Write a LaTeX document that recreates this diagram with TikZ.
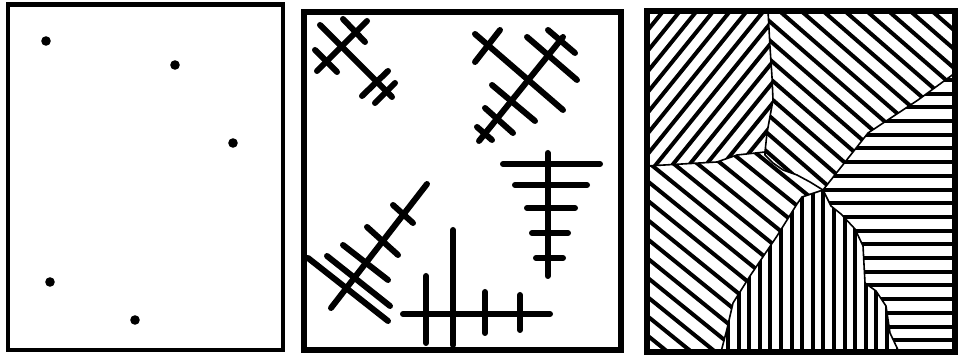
\documentclass[tikz,border=0pt]{standalone}
\usepackage{tikz}

\tikzset{
  frame/.style = {line width=2.2pt},
  fibre/.style = {line width=3pt, line cap=round},
  hatch/.style = {line width=2pt},
  seam/.style  = {line width=0.8pt, line join=round},
}

\begin{document}
\begin{tikzpicture}[x=0.5pt, y=-0.5pt]

\useasboundingbox (0,0) rectangle (958,356);

% ── Panel 1: seed points ─────────────────────────────────────────────────
\draw[frame] (8,4.7) rectangle (282.7,350.3);
\foreach \x/\y in {46/41, 175/65, 233/143, 50/282, 135/320} {
  \fill (\x,\y) circle[radius=2.4pt];
}

% ── Panel 2: growing fibres ──────────────────────────────────────────────
\draw[frame, line width=3pt] (304.3,12) rectangle (620.8,350.5);

% top-left cluster
\foreach \xa/\ya/\xb/\yb in {320/25/392/97, 367/21/317/71, 343/19/365/42,
                             315/50/337/72, 388/71/362/96, 395/83/375/103} {
  \draw[fibre] (\xa,\ya) -- (\xb,\yb);
}

% top-right cluster
\foreach \xa/\ya/\xb/\yb in {563/37/479/141, 475/34/563/110, 500/30/475/62,
                             548/30/575/53, 527/37/577/80, 492/85/535/121,
                             485/108/513/133, 477/127/492/140} {
  \draw[fibre] (\xa,\ya) -- (\xb,\yb);
}

% right comb
\draw[fibre] (547.7,153) -- (547.7,276);
\foreach \y/\xa/\xb in {164/503/600, 185/515/587, 208/527/575,
                        233/532/568, 258/536/563} {
  \draw[fibre] (\xa,\y) -- (\xb,\y);
}

% bottom comb
\draw[fibre] (403,314) -- (550,314);
\foreach \x/\ya/\yb in {426/276/343, 453/230/345, 485/292/333, 520/295/330} {
  \draw[fibre] (\x,\ya) -- (\x,\yb);
}

% bottom-left cluster
\draw[fibre] (427,184) -- (331,308);
\foreach \xa/\ya/\xb/\yb in {393/205/413/223, 367/227/398/255, 343/245/388/280,
                             327/256/390/306, 308/258/388/321} {
  \draw[fibre] (\xa,\ya) -- (\xb,\yb);
}

% ── Panel 3: hatched grains ──────────────────────────────────────────────
\begin{scope}
\clip (646.7,11.2) rectangle (955,352);

% grain with rising hatch (top left)
\begin{scope}
  \clip (640,0) -- (768,0) -- (768,11) -- (770,47) -- (772,77) -- (773,100)
    -- (767,133) -- (765,152) -- (737,155) -- (717,162) -- (647,166)
    -- (640,166) -- cycle;
  \foreach \k in {-22,...,22} {
    \draw[hatch, rotate around={51:(680,11)}] (180,{11+13*\k}) -- (1180,{11+13*\k});
  }
\end{scope}

% grain with falling hatch (top right)
\begin{scope}
  \clip (768,0) -- (960,0) -- (960,73) -- (955,73) -- (918,100) -- (868,133)
    -- (823,190) -- (810,182) -- (797,175) -- (783,170) -- (773,163)
    -- (765,155) -- (765,152) -- (767,133) -- (773,100) -- (772,77)
    -- (770,47) -- (768,11) -- cycle;
  \foreach \k in {-26,...,26} {
    \draw[hatch, rotate around={-41:(823,11)}] (323,{11+14.3*\k}) -- (1323,{11+14.3*\k});
  }
\end{scope}

% grain with horizontal hatch (right)
\begin{scope}
  \clip (960,73) -- (955,73) -- (918,100) -- (868,133) -- (823,190)
    -- (831,206) -- (841,214) -- (855,229) -- (863,246) -- (865,283)
    -- (876,291) -- (886,306) -- (890,333) -- (899,352) -- (899,360)
    -- (960,360) -- cycle;
  \foreach \k in {-1,...,21} {
    \draw[hatch] (800,{80+13.7*\k}) -- (960,{80+13.7*\k});
  }
\end{scope}

% grain with vertical hatch (bottom)
\begin{scope}
  \clip (823,190) -- (831,206) -- (841,214) -- (855,229) -- (863,246)
    -- (865,283) -- (876,291) -- (886,306) -- (890,333) -- (899,352)
    -- (899,360) -- (721,360) -- (721,352) -- (727,329) -- (733,303)
    -- (750,276) -- (777,236) -- (797,204) -- (802,197) -- cycle;
  \foreach \k in {-1,...,18} {
    \draw[hatch] ({728+10.6*\k},180) -- ({728+10.6*\k},360);
  }
\end{scope}

% grain with falling hatch (bottom left)
\begin{scope}
  \clip (640,166) -- (647,166) -- (717,162) -- (737,155) -- (765,152)
    -- (765,155) -- (773,163) -- (783,170) -- (797,175) -- (810,182)
    -- (823,190) -- (802,197) -- (797,204) -- (777,236) -- (750,276)
    -- (733,303) -- (727,329) -- (721,352) -- (721,360) -- (640,360) -- cycle;
  \foreach \k in {-26,...,26} {
    \draw[hatch, rotate around={-39:(647,200)}] (147,{200+15*\k}) -- (1147,{200+15*\k});
  }
\end{scope}

% grain seams
\draw[seam] (768,11) -- (770,47) -- (772,77) -- (773,100) -- (767,133) -- (765,152);
\draw[seam] (647,166) -- (717,162) -- (737,155) -- (765,152);
\draw[seam] (765,152) -- (765,155) -- (773,163) -- (783,170) -- (797,175)
  -- (810,182) -- (823,190);
\draw[seam] (823,190) -- (868,133) -- (918,100) -- (955,73);
\draw[seam] (823,190) -- (831,206) -- (841,214) -- (855,229) -- (863,246)
  -- (865,283) -- (876,291) -- (886,306) -- (890,333) -- (899,352);
\draw[seam] (823,190) -- (802,197) -- (797,204) -- (777,236) -- (750,276)
  -- (733,303) -- (727,329) -- (721,352);
\end{scope}

\draw[frame, line width=2.8pt] (646.7,11.2) rectangle (955,352);

\end{tikzpicture}
\end{document}
